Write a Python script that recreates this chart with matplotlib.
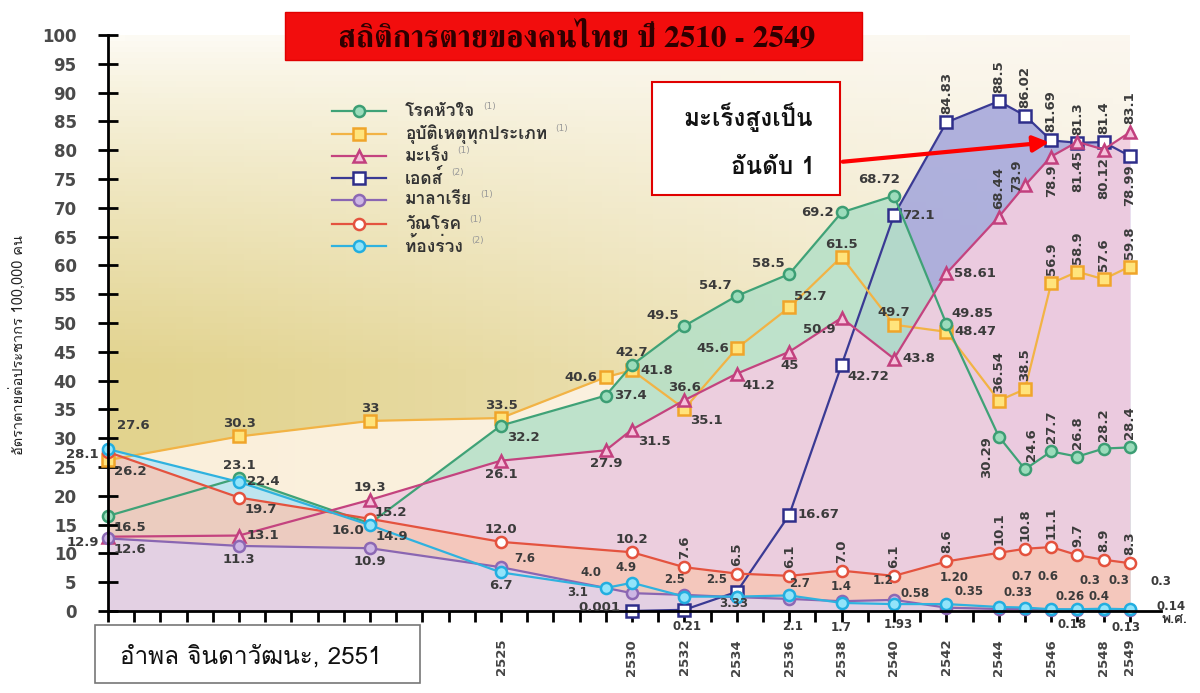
import numpy as np
import matplotlib
matplotlib.use('Agg')
import matplotlib.pyplot as plt
from matplotlib import font_manager
from matplotlib.ft2font import FT2Font
from matplotlib.lines import Line2D
from matplotlib.patches import Rectangle

# look for an installed font that has Thai glyphs
thai_sans, thai_serif = None, None
for f in font_manager.fontManager.ttflist:
    try:
        if not FT2Font(f.fname).get_char_index(0x0E2A):
            continue
    except Exception:
        continue
    if 'Serif' in f.name and thai_serif is None:
        thai_serif = f.name
    elif 'Serif' not in f.name and thai_sans is None:
        thai_sans = f.name
thai_sans = thai_sans or thai_serif or 'DejaVu Sans'
thai_serif = thai_serif or thai_sans
TH = [thai_sans, 'DejaVu Sans']
TH_SERIF = [thai_serif, 'DejaVu Sans']

# ---- data (rate per 100,000 population) ----
title = 'สถิติการตายของคนไทย ปี 2510 - 2549'
ylabel = 'อัตราตายต่อประชากร 100,000 คน'
source = 'อำพล จินดาวัฒนะ, 2551'
callout = ['มะเร็งสูงเป็น', 'อันดับ 1']

heart_years = [2510, 2515, 2520, 2525, 2529, 2530, 2532, 2534, 2536, 2538, 2540, 2542, 2544, 2545, 2546, 2547, 2548, 2549]
heart = [16.5, 23.1, 15.2, 32.2, 37.4, 42.7, 49.5, 54.7, 58.5, 69.2, 72.1, 49.85, 30.29, 24.6, 27.7, 26.8, 28.2, 28.4]
heart_labels = ['16.5', '23.1', '15.2', '32.2', '37.4', '42.7', '49.5', '54.7', '58.5', '69.2', '68.72', '49.85',
                '30.29', '24.6', '27.7', '26.8', '28.2', '28.4']

accident_years = [2510, 2515, 2520, 2525, 2529, 2530, 2532, 2534, 2536, 2538, 2540, 2542, 2544, 2545, 2546, 2547, 2548, 2549]
accident = [26.2, 30.3, 33, 33.5, 40.6, 41.8, 35.1, 45.6, 52.7, 61.5, 49.7, 48.47, 36.54, 38.5, 56.9, 58.9, 57.6, 59.8]
accident_labels = ['26.2', '30.3', '33', '33.5', '40.6', '41.8', '35.1', '45.6', '52.7', '61.5', '49.7', '48.47',
                   '36.54', '38.5', '56.9', '58.9', '57.6', '59.8']

cancer_years = [2510, 2515, 2520, 2525, 2529, 2530, 2532, 2534, 2536, 2538, 2540, 2542, 2544, 2545, 2546, 2547, 2548, 2549]
cancer = [12.9, 13.1, 19.3, 26.1, 27.9, 31.5, 36.6, 41.2, 45, 50.9, 43.8, 58.61, 68.44, 73.9, 78.9, 81.45, 80.12, 83.1]
cancer_labels = ['12.9', '13.1', '19.3', '26.1', '27.9', '31.5', '36.6', '41.2', '45', '50.9', '43.8', '58.61',
                 '68.44', '73.9', '78.9', '81.45', '80.12', '83.1']

aids_years = [2530, 2532, 2534, 2536, 2538, 2540, 2542, 2544, 2545, 2546, 2547, 2548, 2549]
aids = [0.001, 0.21, 3.33, 16.67, 42.72, 68.72, 84.83, 88.5, 86.02, 81.69, 81.3, 81.4, 78.99]
aids_labels = ['0.001', '0.21', '3.33', '16.67', '42.72', '72.1', '84.83', '88.5', '86.02', '81.69', '81.3', '81.4', '78.99']

malaria_years = [2510, 2515, 2520, 2525, 2530, 2532, 2534, 2536, 2538, 2540, 2542, 2544, 2545, 2546, 2547, 2548, 2549]
malaria = [12.6, 11.3, 10.9, 7.6, 3.1, 2.8, 2.4, 2.1, 1.7, 1.93, 0.58, 0.35, 0.33, 0.26, 0.18, 0.13, 0.14]
malaria_labels = ['12.6', '11.3', '10.9', '7.6', '3.1', '', '', '2.1', '1.7', '1.93', '0.58', '0.35', '0.33',
                  '0.26', '0.18', '0.13', '0.14']

tb_years = [2510, 2515, 2520, 2525, 2530, 2532, 2534, 2536, 2538, 2540, 2542, 2544, 2545, 2546, 2547, 2548, 2549]
tb = [27.6, 19.7, 16.0, 12.0, 10.2, 7.6, 6.5, 6.1, 7.0, 6.1, 8.6, 10.1, 10.8, 11.1, 9.7, 8.9, 8.3]
tb_labels = ['27.6', '19.7', '16.0', '12.0', '10.2', '7.6', '6.5', '6.1', '7.0', '6.1', '8.6', '10.1', '10.8',
             '11.1', '9.7', '8.9', '8.3']

diarrhea_years = [2510, 2515, 2520, 2525, 2529, 2530, 2532, 2534, 2536, 2538, 2540, 2542, 2544, 2545, 2546, 2547, 2548, 2549]
diarrhea = [28.1, 22.4, 14.9, 6.7, 4.0, 4.9, 2.5, 2.5, 2.7, 1.4, 1.2, 1.20, 0.7, 0.6, 0.3, 0.3, 0.4, 0.3]
diarrhea_labels = ['28.1', '22.4', '14.9', '6.7', '4.0', '4.9', '2.5', '2.5', '2.7', '1.4', '1.2', '1.20', '0.7',
                   '0.6', '0.3', '0.3', '0.4', '0.3']

legend_names = ['โรคหัวใจ', 'อุบัติเหตุทุกประเภท', 'มะเร็ง', 'เอดส์', 'มาลาเรีย', 'วัณโรค', 'ท้องร่วง']
legend_notes = ['(1)', '(1)', '(1)', '(2)', '(1)', '(1)', '(2)']

xtick_years = [2525, 2530, 2532, 2534, 2536, 2538, 2540, 2542, 2544, 2546, 2548, 2549]
ytick_vals = list(range(0, 101, 5))

# ---- label placement (offsets in pixels, y up) ----
POS = {
    'a': (0, 6, 'center', 'bottom', 0),
    'b': (0, -7, 'center', 'top', 0),
    'r': (8, 0, 'left', 'center', 0),
    'l': (-8, 0, 'right', 'center', 0),
    'ar': (5, 4, 'left', 'bottom', 0),
    'al': (-5, 4, 'right', 'bottom', 0),
    'br': (6, -5, 'left', 'top', 0),
    'bl': (-6, -5, 'right', 'top', 0),
    'A': (0, 8, 'center', 'bottom', 90),
    'Ar': (7, 8, 'center', 'bottom', 90),
    'B': (0, -8, 'center', 'top', 90),
    'Bl': (-12, 0, 'center', 'top', 90),
}
heart_pos = ['br', 'a', 'ar', 'br', 'r', 'a', 'al', 'al', 'al', 'l', (-15, 16, 'center', 'center', 0), 'ar',
             'Bl', 'Ar', 'A', 'A', 'A', 'A']
accident_pos = ['br', 'a', 'a', 'a', 'l', 'r', 'br', 'l', 'ar', 'a', 'a', 'r', 'A', 'A', 'A', 'A', 'A', 'A']
cancer_pos = [(-9, -6, 'right', 'center', 0), 'r', 'a', 'b', 'b', 'br', 'a', 'br', 'b', 'bl', 'r', 'r', 'A',
              (-8, 10, 'center', 'center', 90), 'B', 'B', 'B', 'A']
aids_pos = [(-12, 3, 'right', 'center', 0), (3, -17), (-3, -12), 'r', 'br', 'r', 'A', 'A', 'A', 'A', 'A', 'A', 'B']
malaria_pos = ['br', 'b', 'b', (24, 9), (-54, 1), '', '', (3, -28), (0, -26), (4, -25), (-31, 14), (-30, 17),
               (-7, 17), (19, 13), (-5, -15), (22, -17), (41, 4)]
tb_pos = [(9, 27, 'left', 'center', 0), 'br', 'bl', 'a', 'a', 'A', 'A', 'A', 'A', 'A', 'A', 'A', 'A', 'A', 'A', 'A', 'A']
diarrhea_pos = [(-9, -5, 'right', 'center', 0), 'r', 'br', 'b', (-15, 15), (-6, 15), (-10, 17), (-20, 17), (10, 12),
                (0, 16), (-11, 24), (8, 27), (23, 30), (23, 31), (39, 29), (42, 29), (-5, 12), (31, 28)]


def place(p):
    if isinstance(p, str):
        return POS[p] + (9.5,)
    if len(p) == 2:
        return (p[0], p[1], 'center', 'center', 0, 8.5)
    return tuple(p) + (9.5,)


W, H = 1200, 693
fig = plt.figure(figsize=(W / 100, H / 100), dpi=100)
fig.patch.set_facecolor('white')


def fx(x):
    return x / W


def fy(y):
    return 1 - y / H


x0, x1 = 2510, 2550.2
ax = fig.add_axes([fx(108), fy(611), fx(108 + (x1 - x0) * 26.2) - fx(108), fy(35) - fy(611)])
ax.set_xlim(x0, x1)
ax.set_ylim(0, 100)
ax.set_facecolor('white')

# background gradient: pale cream at top, khaki lower down, lighter to the right
ny, nx = 100, 60
yy = np.linspace(0, 1, ny)[:, None]
xx = np.linspace(0, 1, nx)[None, :]
top = np.array([253, 251, 244]) / 255
mid = np.array([226, 211, 142]) / 255
t = np.clip(yy / 0.58, 0, 1)[..., None] ** 0.85
grad = top * (1 - t) + mid * t
grad = grad * np.ones((1, nx, 1))
light = np.array([251, 246, 238]) / 255
k = (xx ** 1.3 * 0.8)[..., None]
grad = grad * (1 - k) + light * k
ax.imshow(grad, extent=[2510, 2549, 0, 100], origin='upper', aspect='auto', zorder=0)

series = [
    # years, values, labels, positions, line, marker, face, edge, fill, fill alpha
    (accident_years, accident, accident_labels, accident_pos, '#f2b345', 's', '#ffe47c', '#f0a52a', '#fdf3e4', 0.9),
    (aids_years, aids, aids_labels, aids_pos, '#3a3a94', 's', 'white', '#2e2e8a', '#a7a9dc', 0.9),
    (heart_years, heart, heart_labels, heart_pos, '#3fa277', 'o', '#9bdcbb', '#3c9e74', '#b4e0c8', 0.85),
    (cancer_years, cancer, cancer_labels, cancer_pos, '#c4437f', '^', '#f6c2dc', '#c2407e', '#f1cde0', 0.92),
    (diarrhea_years, diarrhea, diarrhea_labels, diarrhea_pos, '#2fb2df', 'o', '#92e4fa', '#22aee0', '#bfe6f6', 0.85),
    (tb_years, tb, tb_labels, tb_pos, '#e4533f', 'o', 'white', '#e4523e', '#f7c6b4', 0.8),
    (malaria_years, malaria, malaria_labels, malaria_pos, '#8a66b2', 'o', '#cdb6e4', '#8c68b4', '#e2d2ea', 0.85),
]

for i, (yrs, vals, labs, pos, lc, mk, mf, me, fc, fa) in enumerate(series):
    ax.fill_between(yrs, vals, 0, color=fc, alpha=fa, lw=0, zorder=1 + i * 0.01)

order = [1, 0, 2, 3, 6, 5, 4]
for j, i in enumerate(order):
    yrs, vals, labs, pos, lc, mk, mf, me, fc, fa = series[i]
    ms = 9 if mk in ('s', '^') else 8
    ax.plot(yrs, vals, color=lc, lw=1.6, marker=mk, ms=ms, mfc=mf, mec=me, mew=1.8,
            zorder=3 + j * 0.1, clip_on=False)

for yrs, vals, labs, pos, lc, mk, mf, me, fc, fa in series:
    for xv, yv, s, p in zip(yrs, vals, labs, pos):
        if not s or not p:
            continue
        dx, dy, ha, va, rot, size = place(p)
        ax.annotate(s, (xv, yv), xytext=(dx * 0.72, dy * 0.72), textcoords='offset points',
                    ha=ha, va=va, rotation=rot, fontsize=size, fontweight='bold', color='#3b3b3b',
                    family='DejaVu Sans', zorder=6)

# axes styling
for side in ['top', 'right']:
    ax.spines[side].set_visible(False)
ax.spines['left'].set_linewidth(2)
ax.spines['bottom'].set_linewidth(2)
ax.spines['left'].set_zorder(5)
ax.spines['bottom'].set_zorder(5)
ax.set_yticks(ytick_vals)
ax.set_yticklabels([str(v) for v in ytick_vals], fontsize=12, fontweight='bold', color='#4a4a4a',
                   family='DejaVu Sans')
ax.tick_params(axis='y', direction='inout', length=15, width=2, pad=15)
ax.set_xticks(range(2510, 2550), minor=True)
ax.set_xticks(xtick_years)
ax.set_xticklabels([str(v) for v in xtick_years], rotation=90, fontsize=9.5, fontweight='bold',
                   color='#444444', family='DejaVu Sans')
ax.tick_params(axis='x', which='both', direction='out', length=8, width=2, pad=12)
ax.text(1.0, -0.005, 'พ.ศ.', transform=ax.transAxes, ha='left', va='top', fontsize=10,
        fontweight='bold', color='#333333', family=TH)
fig.text(fx(18), fy(345), ylabel, rotation=90, ha='center', va='center', fontsize=10.5,
         color='#222222', family=TH)

# title box
fig.add_artist(Rectangle((fx(285), fy(60)), fx(862) - fx(285), fy(12) - fy(60),
                         transform=fig.transFigure, facecolor='#f20d0d', edgecolor='#e00000', zorder=10))
fig.text(fx(577), fy(37), title, ha='center', va='center', fontsize=22.5, fontweight='bold',
         color='#2e0000', family=TH_SERIF, zorder=11)

# legend
legend_y = [111, 134, 156, 178, 200, 224, 246]
legend_idx = [2, 0, 3, 1, 6, 5, 4]
texts = []
for ly, idx, name in zip(legend_y, legend_idx, legend_names):
    yrs, vals, labs, pos, lc, mk, mf, me, fc, fa = series[idx]
    fig.add_artist(Line2D([fx(332), fx(386)], [fy(ly), fy(ly)], color=lc, lw=1.6, zorder=10))
    fig.add_artist(Line2D([fx(359)], [fy(ly)], marker=mk, ms=8, mfc=mf, mec=me, mew=1.8, zorder=11))
    texts.append(fig.text(fx(405), fy(ly), name, ha='left', va='center', fontsize=12.5, fontweight='bold',
                          color='#333333', family=TH, zorder=11))
fig.canvas.draw()
r = fig.canvas.get_renderer()
for tx, ly, note in zip(texts, legend_y, legend_notes):
    bb = tx.get_window_extent(r)
    fig.text((bb.x1 + 8) / W, fy(ly - 5), note, ha='left', va='center', fontsize=6.5, color='#999999',
             family='DejaVu Sans', zorder=11)

# callout box + arrow
fig.add_artist(Rectangle((fx(652), fy(195)), fx(840) - fx(652), fy(82) - fy(195),
                         transform=fig.transFigure, facecolor='white', edgecolor='#e00000', lw=1.5, zorder=10))
fig.text(fx(748), fy(117), callout[0], ha='center', va='center', fontsize=17.5, fontweight='bold',
         color='#111111', family=TH, zorder=11)
fig.text(fx(773), fy(168), callout[1], ha='center', va='center', fontsize=17.5, fontweight='bold',
         color='#111111', family=TH, zorder=11)
ax.annotate('', xy=(1052, H - 142), xycoords='figure pixels', xytext=(840, H - 162), textcoords='figure pixels',
            arrowprops=dict(arrowstyle='-|>', color='#ff0000', lw=3, mutation_scale=24), zorder=12)

# source box
fig.add_artist(Rectangle((fx(95), fy(683)), fx(420) - fx(95), fy(625) - fy(683),
                         transform=fig.transFigure, facecolor='white', edgecolor='#777777', lw=1.2, zorder=10))
fig.text(fx(120), fy(657), source, ha='left', va='center', fontsize=17.5, color='#111111', family=TH, zorder=11)

fig.savefig('out.png', dpi=100)
